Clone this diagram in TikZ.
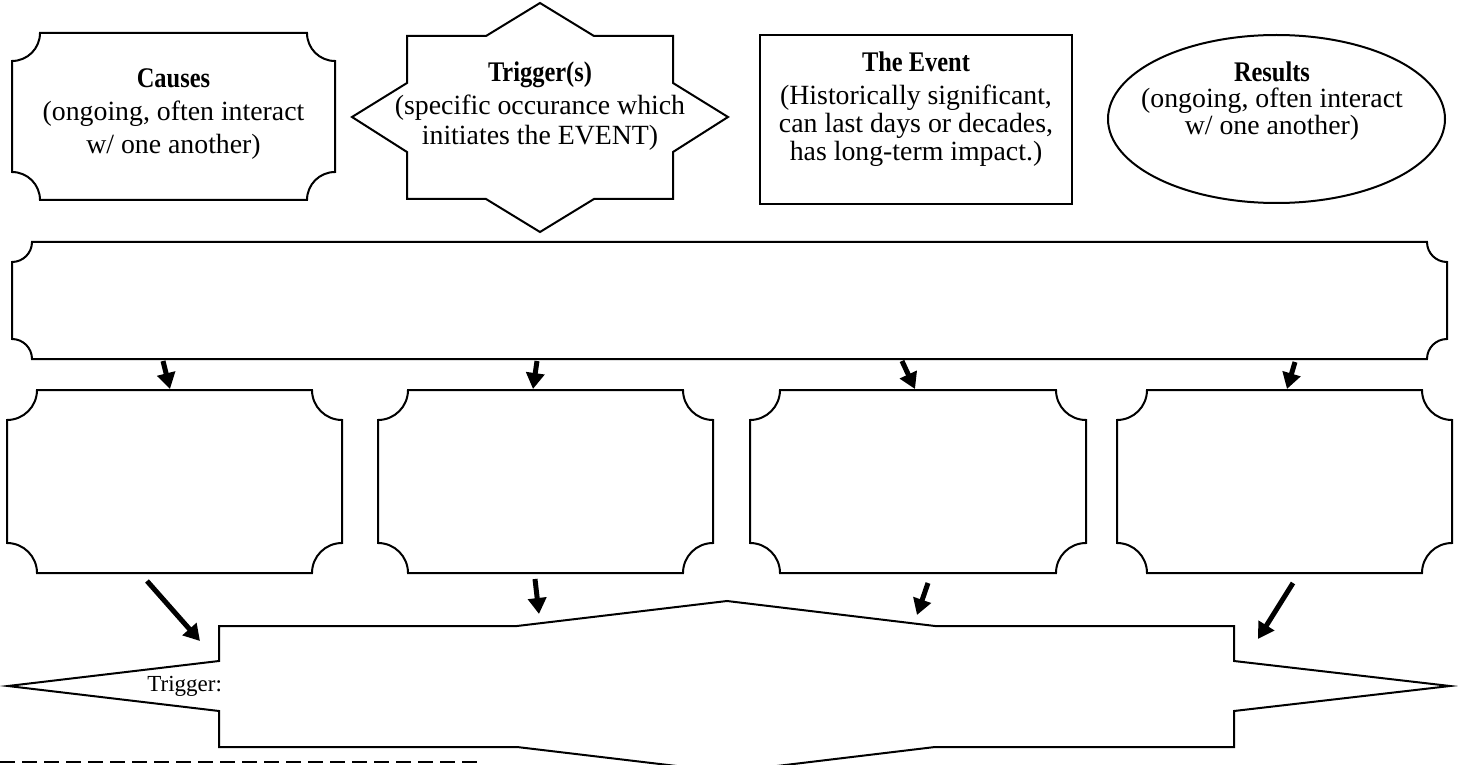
\documentclass[tikz,border=0pt]{standalone}
\usepackage{fontspec}
\setmainfont{Liberation Serif}
\newfontfamily\headfont{Liberation Serif}[FakeStretch=0.86]
\usetikzlibrary{arrows.meta,fit,shapes.geometric}
\tikzset{
  outl/.style={line width=1pt, line join=miter},
  box/.style={inner sep=0pt, outer sep=0pt},
  head/.style={anchor=base, inner sep=0pt, font=\headfont\bfseries\fontsize{14.2}{16}\selectfont},
  body/.style={anchor=base, inner sep=0pt, font=\fontsize{13.9}{16}\selectfont},
  arr/.style={line width=2.5pt, -{Triangle[length=8pt,width=9pt]}},
}
\newcommand\plaque[2]{%
  \draw[outl] ([xshift=#2]#1.north west) -- ([xshift=-#2]#1.north east)
    arc[start angle=180,end angle=270,radius=#2]
    -- ([yshift=#2]#1.south east)
    arc[start angle=90,end angle=180,radius=#2]
    -- ([xshift=#2]#1.south west)
    arc[start angle=0,end angle=90,radius=#2]
    -- ([yshift=-#2]#1.north west)
    arc[start angle=270,end angle=360,radius=#2] -- cycle;}
\begin{document}
\begin{tikzpicture}[x=0.5pt,y=-0.5pt]
\useasboundingbox (0,0) rectangle (1458,765);
\clip (0,0) rectangle (1458,765);
\fill[white] (0,0) rectangle (1458,765);

% Causes
\node[box, fit={(12,33) (335,200)}] (causes) {};
\plaque{causes}{14pt}
\node[head] (causesH) at (173.5,87.5) {Causes};
\node[body] (causes1) at (173.5,121) {(ongoing, often interact};
\node[body] (causes2) at (173.5,154) {w/ one another)};

% Trigger star
\node[box, fit={(352,3) (728,232)}] (trig) {};
\draw[outl] (407,36) -- (486,36) -- (540,3) -- (594,36) -- (673,36) -- (673,83)
  -- (728,117) -- (673,152) -- (673,199) -- (594,199) -- (540,232) -- (486,199)
  -- (407,199) -- (407,152) -- (352,117) -- (407,83) -- cycle;
\node[head] (trigH) at (540,82) {Trigger(s)};
\node[body] (trig1) at (540,115) {(specific occurance which};
\node[body] (trig2) at (540,145) {initiates the EVENT)};

% Event
\node[box, draw, outl, fit={(760,35) (1072,204)}] (event) {};
\node[head] (eventH) at (916,72) {The Event};
\node[body] (event1) at (916,105) {(Historically significant,};
\node[body] (event2) at (916,133) {can last days or decades,};
\node[body] (event3) at (916,161) {has long-term impact.)};

% Results
\node[draw, outl, ellipse, inner sep=0pt, minimum width=168.5pt, minimum height=84pt] (res) at (1276.5,119) {};
\node[head] (resH) at (1272,82) {Results};
\node[body] (res1) at (1272,108) {(ongoing, often interact};
\node[body] (res2) at (1272,135) {w/ one another)};

% Big box
\node[box, fit={(12,242) (1447,359)}] (big) {};
\plaque{big}{10pt}

% Row boxes
\node[box, fit={(7,390) (342,573)}] (r1) {};
\node[box, fit={(378,390) (713,573)}] (r2) {};
\node[box, fit={(750,390) (1086,573)}] (r3) {};
\node[box, fit={(1117,390) (1452,573)}] (r4) {};
\plaque{r1}{15pt}
\plaque{r2}{15pt}
\plaque{r3}{15pt}
\plaque{r4}{15pt}

% Bottom trigger bar
\node[box, fit={(8,601) (1450,772)}] (bar) {};
\draw[outl] (8,686) -- (219,661) -- (219,626) -- (517,626) -- (727,601) -- (935,626)
  -- (1234,626) -- (1234,661) -- (1450,686) -- (1234,711) -- (1234,747) -- (935,747)
  -- (727,772) -- (517,747) -- (219,747) -- (219,711) -- cycle;
\node[anchor=base west, inner sep=0pt, font=\fontsize{11.5}{13}\selectfont] (trigL) at (147,691) {Trigger:};

% Arrows big -> row
\coordinate (a1s) at (163,361); \coordinate (a1e) at (170,389);
\coordinate (a2s) at (537,361); \coordinate (a2e) at (533,389);
\coordinate (a3s) at (902,361); \coordinate (a3e) at (915,389);
\coordinate (a4s) at (1295,362); \coordinate (a4e) at (1287,389);
\draw[arr] (a1s) -- (a1e);
\draw[arr] (a2s) -- (a2e);
\draw[arr] (a3s) -- (a3e);
\draw[arr] (a4s) -- (a4e);

% Arrows row -> bar
\coordinate (b1s) at (147,581); \coordinate (b1e) at (200,641);
\coordinate (b2s) at (535,579); \coordinate (b2e) at (539,614);
\coordinate (b3s) at (928,583); \coordinate (b3e) at (917,615);
\coordinate (b4s) at (1293,583); \coordinate (b4e) at (1258,639);
\draw[arr] (b1s) -- (b1e);
\draw[arr] (b2s) -- (b2e);
\draw[arr] (b3s) -- (b3e);
\draw[arr] (b4s) -- (b4e);

% Dashed cut line
\coordinate (dL) at (0,762); \coordinate (dR) at (478,762);
\draw[line width=1pt, dash pattern=on 7.5pt off 3.5pt] (dL) -- (dR);
\end{tikzpicture}
\end{document}
